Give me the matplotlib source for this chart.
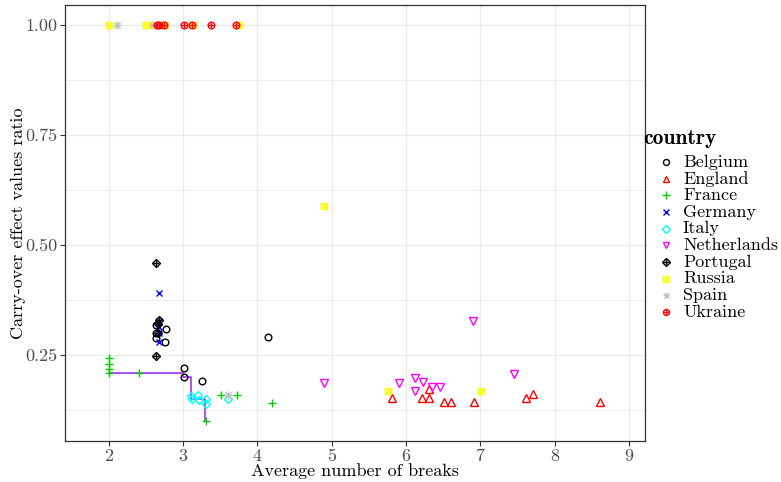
import matplotlib
matplotlib.use("Agg")
import matplotlib.pyplot as plt
from matplotlib.lines import Line2D

plt.rcParams['font.family'] = ['cmr10', 'DejaVu Serif']
plt.rcParams['axes.unicode_minus'] = False
plt.rcParams['mathtext.fontset'] = 'cm'

countries = ["Belgium", "England", "France", "Germany", "Italy",
             "Netherlands", "Portugal", "Russia", "Spain", "Ukraine"]

belgium_x = [2.63, 2.77, 2.63, 2.63, 2.76, 3.01, 3.01, 3.26, 4.14]
belgium_y = [0.318, 0.309, 0.30, 0.289, 0.28, 0.22, 0.20, 0.19, 0.29]

england_x = [5.81, 6.21, 6.31, 6.31, 6.51, 6.61, 6.91, 7.61, 7.71, 8.61]
england_y = [0.152, 0.152, 0.152, 0.172, 0.142, 0.142, 0.142, 0.152, 0.161, 0.142]

france_x = [2.0, 2.0, 2.0, 2.0, 2.41, 3.31, 3.51, 3.72, 4.2]
france_y = [0.242, 0.23, 0.218, 0.21, 0.21, 0.10, 0.16, 0.16, 0.14]

germany_x = [2.67, 2.67, 2.67, 2.67, 2.67]
germany_y = [0.39, 0.328, 0.314, 0.30, 0.28]

italy_x = [3.10, 3.20, 3.12, 3.21, 3.31, 3.31, 3.61]
italy_y = [0.157, 0.159, 0.149, 0.148, 0.149, 0.139, 0.149]

netherlands_x = [4.90, 5.90, 6.12, 6.12, 6.23, 6.35, 6.45, 6.90, 7.45]
netherlands_y = [0.187, 0.187, 0.197, 0.169, 0.188, 0.177, 0.177, 0.327, 0.207]

portugal_x = [2.63, 2.67, 2.66, 2.66, 2.63]
portugal_y = [0.459, 0.33, 0.32, 0.30, 0.248]

russia_x = [2.0, 2.5, 2.55, 2.76, 3.13, 3.75, 4.89, 5.76, 7.01]
russia_y = [1.0, 1.0, 1.0, 1.0, 1.0, 1.0, 0.589, 0.169, 0.169]

spain_x = [2.11, 2.60, 3.61]
spain_y = [1.0, 1.0, 0.16]

ukraine_x = [2.65, 2.68, 2.74, 3.01, 3.12, 3.38, 3.71]
ukraine_y = [1.0, 1.0, 1.0, 1.0, 1.0, 1.0, 1.0]

front_x = [2.0, 3.0, 3.1, 3.3]
front_y = [0.21, 0.20, 0.15, 0.10]

x_ticks = [2, 3, 4, 5, 6, 7, 8, 9]
y_ticks = [0.25, 0.50, 0.75, 1.00]
y_tick_labels = ["0.25", "0.50", "0.75", "1.00"]

colors = {"Belgium": "black", "England": "#FF0000", "France": "#00CD00",
          "Germany": "#0000FF", "Italy": "#00FFFF", "Netherlands": "#FF00FF",
          "Portugal": "black", "Russia": "#FFFF00", "Spain": "#BEBEBE",
          "Ukraine": "#FF0000"}

shapes = {"Belgium": ["o"], "England": ["^"], "France": ["+"],
          "Germany": ["x"], "Italy": ["D"], "Netherlands": ["v"],
          "Portugal": ["D", "+"], "Russia": ["s", "x"], "Spain": ["+", "x"],
          "Ukraine": ["o", "+"]}
sizes = {"o": 4.8, "^": 5.2, "+": 5.8, "x": 4.6, "D": 4.2, "v": 5.2, "s": 4.6}

data = {"Belgium": (belgium_x, belgium_y), "England": (england_x, england_y),
        "France": (france_x, france_y), "Germany": (germany_x, germany_y),
        "Italy": (italy_x, italy_y), "Netherlands": (netherlands_x, netherlands_y),
        "Portugal": (portugal_x, portugal_y), "Russia": (russia_x, russia_y),
        "Spain": (spain_x, spain_y), "Ukraine": (ukraine_x, ukraine_y)}

fig = plt.figure(figsize=(7.81, 4.82), dpi=100)
ax = fig.add_axes([65/781, 1-441/482, 580/781, 436/482])

ax.set_xlim(1.41, 9.215)
ax.set_ylim(0.0545, 1.045)

for v in x_ticks:
    ax.axvline(v, color="#EBEBEB", lw=1.0, zorder=0)
for v in [0.125, 0.375, 0.625, 0.875]:
    ax.axhline(v, color="#EBEBEB", lw=0.6, zorder=0)
for v in y_ticks:
    ax.axhline(v, color="#EBEBEB", lw=1.0, zorder=0)

ax.step(front_x, front_y, where="post", color="#A020F0", lw=1.1, zorder=2)


def size_for(c, m, sub, scale=1.0):
    if c == "Spain":
        s = 5.2 if m == "+" else 4.0
    else:
        s = sizes[m]
        if sub and m in ("+", "x"):
            s *= 0.8
    return s * scale


for c in countries:
    xs, ys = data[c]
    layers = shapes[c]
    for i, m in enumerate(layers):
        sub = len(layers) > 1 and i > 0
        ax.plot(xs, ys, linestyle="none", marker=m,
                markersize=size_for(c, m, sub),
                markerfacecolor="none", markeredgecolor=colors[c],
                markeredgewidth=1.0, zorder=3)

ax.set_xticks(x_ticks)
ax.set_xticklabels([str(v) for v in x_ticks])
ax.set_yticks(y_ticks)
ax.set_yticklabels(y_tick_labels)
ax.tick_params(axis="both", direction="out", length=3.5, width=0.8,
               color="#333333", labelcolor="#4D4D4D", labelsize=13, pad=2)
for s in ax.spines.values():
    s.set_color("#333333")
    s.set_linewidth(0.9)

ax.set_xlabel("Average number of breaks", fontsize=13, va="center")
ax.xaxis.set_label_coords(0.5, (441 - 471) / 436)
ax.set_ylabel("Carry-over effect values ratio", fontsize=13, va="center")
ax.yaxis.set_label_coords((18 - 65) / 580, 0.5)

fig.text(643/781, 1-138/482, "country", fontsize=15.5, fontfamily="cmb10",
         ha="left", va="center")
for i, c in enumerate(countries):
    yp = 162 + i * 16.65
    fy = 1 - yp / 482
    fig.text(683/781, fy, c, fontsize=13, ha="left", va="center")
    layers = shapes[c]
    for j, m in enumerate(layers):
        sub = len(layers) > 1 and j > 0
        ln = Line2D([666/781], [fy], transform=fig.transFigure, marker=m,
                    markersize=size_for(c, m, sub, 0.9), markerfacecolor="none",
                    markeredgecolor=colors[c], markeredgewidth=1.0,
                    linestyle="none")
        fig.add_artist(ln)

fig.savefig("out.png", dpi=100)
